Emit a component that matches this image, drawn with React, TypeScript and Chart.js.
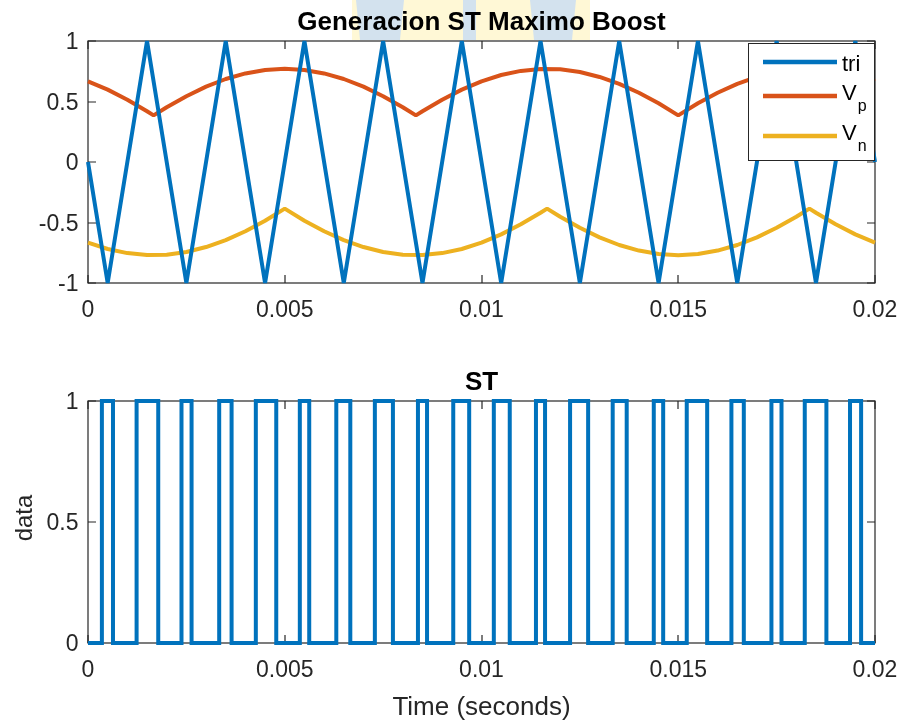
import React, { useEffect, useRef } from 'react';
import { Chart, registerables } from 'chart.js';

Chart.register(...registerables);

const FONT = '"Liberation Sans", Arial, Helvetica, sans-serif';
const AXIS_COLOR = '#262626';
const BLUE = '#0072BD';
const ORANGE = '#D95319';
const YELLOW = '#EDB120';

// ---- tick labels ----
const xTicks = [0, 0.005, 0.01, 0.015, 0.02];
const xTickLabels = ['0', '0.005', '0.01', '0.015', '0.02'];
const yTicksTop = [-1, -0.5, 0, 0.5, 1];
const yTickLabelsTop = ['-1', '-0.5', '0', '0.5', '1'];
const yTicksBottom = [0, 0.5, 1];
const yTickLabelsBottom = ['0', '0.5', '1'];

// ---- texts ----
const topTitle = 'Generacion ST Maximo Boost';
const bottomTitle = 'ST';
const xLabel = 'Time (seconds)';
const yLabel = 'data';
const legendNames = ['tri', 'V', 'V'];
const legendSubs = ['', 'p', 'n'];

// ---- series: carrier (triangle) ----
const triTime = [0, 0.0005, 0.0015, 0.0025, 0.0035, 0.0045, 0.0055, 0.0065, 0.0075, 0.0085, 0.0095,
  0.0105, 0.0115, 0.0125, 0.0135, 0.0145, 0.0155, 0.0165, 0.0175, 0.0185, 0.0195, 0.02];
const triValue = [0, -1, 1, -1, 1, -1, 1, -1, 1, -1, 1, -1, 1, -1, 1, -1, 1, -1, 1, -1, 1, 0];

// ---- series: Vp envelope ----
const vpTime = [0, 0.0005, 0.001, 0.0015, 0.001667, 0.002, 0.0025, 0.003, 0.0035, 0.004, 0.0045, 0.005,
  0.0055, 0.006, 0.0065, 0.007, 0.0075, 0.008, 0.008333, 0.0085, 0.009, 0.0095, 0.01, 0.0105, 0.011,
  0.0115, 0.012, 0.0125, 0.013, 0.0135, 0.014, 0.0145, 0.015, 0.0155, 0.016, 0.0165, 0.017, 0.0175,
  0.018, 0.0185, 0.019, 0.0195, 0.02];
const vpValue = [0.667, 0.598, 0.515, 0.419, 0.385, 0.453, 0.544, 0.623, 0.686, 0.732, 0.761, 0.770,
  0.761, 0.732, 0.686, 0.623, 0.544, 0.453, 0.385, 0.419, 0.515, 0.598, 0.667, 0.719, 0.753,
  0.769, 0.766, 0.744, 0.703, 0.646, 0.572, 0.485, 0.385, 0.485, 0.572, 0.646, 0.703, 0.744,
  0.766, 0.769, 0.753, 0.719, 0.667];

// ---- series: Vn envelope ----
const vnTime = [0, 0.0005, 0.001, 0.0015, 0.002, 0.0025, 0.003, 0.0035, 0.004, 0.0045, 0.005,
  0.0055, 0.006, 0.0065, 0.007, 0.0075, 0.008, 0.0085, 0.009, 0.0095, 0.01, 0.0105, 0.011, 0.0115,
  0.011667, 0.012, 0.0125, 0.013, 0.0135, 0.014, 0.0145, 0.015, 0.0155, 0.016, 0.0165, 0.017, 0.0175,
  0.018, 0.018333, 0.0185, 0.019, 0.0195, 0.02];
const vnValue = [-0.667, -0.719, -0.753, -0.769, -0.766, -0.744, -0.703, -0.646, -0.572, -0.485, -0.385,
  -0.485, -0.572, -0.646, -0.703, -0.744, -0.766, -0.769, -0.753, -0.719, -0.667, -0.598, -0.515, -0.419,
  -0.385, -0.453, -0.544, -0.623, -0.686, -0.732, -0.761, -0.770, -0.761, -0.732, -0.686, -0.623, -0.544,
  -0.453, -0.385, -0.419, -0.515, -0.598, -0.667];

// ---- series: shoot-through pulses (rise / fall times, s) ----
const stRise = [0.000353, 0.001235, 0.002376, 0.003334, 0.004265, 0.005383, 0.006310, 0.007290, 0.008385, 0.009282,
  0.010313, 0.011384, 0.012251, 0.013334, 0.014378, 0.015216, 0.016351, 0.017368, 0.018215, 0.019365];
const stFall = [0.000635, 0.001785, 0.002632, 0.003649, 0.004784, 0.005622, 0.006666, 0.007749, 0.008616, 0.009687,
  0.010718, 0.011615, 0.012710, 0.013690, 0.014617, 0.015735, 0.016666, 0.017624, 0.018765, 0.019647];
const stLow = 0;
const stHigh = 1;
const tStart = 0;
const tEnd = 0.02;

function zip(xs: number[], ys: number[]) {
  return xs.map((x, i) => ({ x, y: ys[i] }));
}

function stPoints() {
  const pts: { x: number; y: number }[] = [{ x: tStart, y: stLow }];
  stRise.forEach((r, i) => {
    pts.push({ x: r, y: stLow }, { x: r, y: stHigh }, { x: stFall[i], y: stHigh }, { x: stFall[i], y: stLow });
  });
  pts.push({ x: tEnd, y: stLow });
  return pts;
}

type AxesOpts = {
  yTicks: number[];
  title: string;
  titleY: number;
  legend?: boolean;
  watermark?: boolean;
  xLabel?: string;
  xLabelY?: number;
  yLabel?: string;
  yLabelX?: number;
};

function makeAxesPlugin(o: AxesOpts) {
  return {
    id: 'matlabAxes',
    beforeDraw(chart: any) {
      if (!o.watermark) return;
      const ctx = chart.ctx;
      ctx.save();
      ctx.fillStyle = '#FFF8D6';
      ctx.fillRect(352, 0, 238, 40);
      ctx.fillStyle = '#D3E2EE';
      ctx.beginPath();
      ctx.moveTo(356, 0); ctx.lineTo(404, 0); ctx.lineTo(400, 40); ctx.lineTo(360, 40); ctx.closePath();
      ctx.fill();
      ctx.fillRect(463, 0, 13, 40);
      ctx.beginPath();
      ctx.moveTo(530, 0); ctx.lineTo(576, 0); ctx.lineTo(572, 40); ctx.lineTo(534, 40); ctx.closePath();
      ctx.fill();
      ctx.restore();
    },
    beforeDatasetsDraw(chart: any) {
      const ctx = chart.ctx;
      const { left, right, top, bottom } = chart.chartArea;
      const xs = chart.scales.x;
      const ys = chart.scales.y;
      const tl = 8;
      ctx.save();
      ctx.strokeStyle = AXIS_COLOR;
      ctx.lineWidth = 1.2;
      ctx.beginPath();
      xTicks.forEach((v) => {
        const px = Math.round(xs.getPixelForValue(v));
        ctx.moveTo(px, bottom); ctx.lineTo(px, bottom - tl);
        ctx.moveTo(px, top); ctx.lineTo(px, top + tl);
      });
      o.yTicks.forEach((v) => {
        const py = Math.round(ys.getPixelForValue(v));
        ctx.moveTo(left, py); ctx.lineTo(left + tl, py);
        ctx.moveTo(right, py); ctx.lineTo(right - tl, py);
      });
      ctx.stroke();
      ctx.strokeRect(left, top, right - left, bottom - top);
      ctx.restore();
    },
    afterDraw(chart: any) {
      const ctx = chart.ctx;
      const { left, right, top, bottom } = chart.chartArea;
      const cx = (left + right) / 2;
      ctx.save();
      ctx.fillStyle = '#000';
      ctx.textAlign = 'center';
      ctx.textBaseline = 'alphabetic';
      ctx.font = `bold 26px ${FONT}`;
      ctx.fillText(o.title, cx, o.titleY);
      if (o.xLabel) {
        ctx.fillStyle = AXIS_COLOR;
        ctx.font = `26px ${FONT}`;
        ctx.fillText(o.xLabel, cx, o.xLabelY as number);
      }
      if (o.yLabel) {
        ctx.save();
        ctx.fillStyle = AXIS_COLOR;
        ctx.font = `24px ${FONT}`;
        ctx.translate(o.yLabelX as number, (top + bottom) / 2 - 4);
        ctx.rotate(-Math.PI / 2);
        ctx.textAlign = 'center';
        ctx.fillText(o.yLabel, 0, 0);
        ctx.restore();
      }
      if (o.legend) {
        const bx = 748, by = 43, bw = 126, bh = 117;
        ctx.fillStyle = '#fff';
        ctx.fillRect(bx, by, bw, bh);
        ctx.strokeStyle = AXIS_COLOR;
        ctx.lineWidth = 1;
        ctx.strokeRect(bx + 0.5, by + 0.5, bw, bh);
        const colors = [BLUE, ORANGE, YELLOW];
        const lineYs = [62, 96, 136];
        const textBase = [71, 100, 140];
        colors.forEach((c, i) => {
          ctx.strokeStyle = c;
          ctx.lineWidth = 4.5;
          ctx.beginPath();
          ctx.moveTo(763, lineYs[i]);
          ctx.lineTo(837, lineYs[i]);
          ctx.stroke();
          ctx.fillStyle = '#000';
          ctx.textAlign = 'left';
          ctx.font = `22px ${FONT}`;
          ctx.fillText(legendNames[i], 842, textBase[i]);
          if (legendSubs[i]) {
            const w = ctx.measureText(legendNames[i]).width;
            ctx.font = `16px ${FONT}`;
            ctx.fillText(legendSubs[i], 842 + w + 1, textBase[i] + 10.5);
          }
        });
      }
      ctx.restore();
    },
  };
}

function zeroPad(s: any) {
  s.paddingLeft = 0;
  s.paddingRight = 0;
  s.paddingTop = 0;
  s.paddingBottom = 0;
}

function baseOptions(yMin: number, yMax: number, yTicks: number[], yLabels: string[], padTop: number, xAxisH: number) {
  return {
    animation: false as const,
    responsive: false,
    maintainAspectRatio: false,
    devicePixelRatio: 1,
    layout: { padding: { left: 0, right: 26, top: padTop, bottom: 0 } },
    plugins: {
      legend: { display: false },
      title: { display: false },
      tooltip: { enabled: false },
    },
    elements: { point: { radius: 0 }, line: { tension: 0 } },
    scales: {
      x: {
        type: 'linear' as const,
        min: xTicks[0],
        max: xTicks[xTicks.length - 1],
        grid: { display: false, drawTicks: false },
        border: { display: false },
        afterFit: (s: any) => { s.height = xAxisH; zeroPad(s); },
        afterBuildTicks: (s: any) => { s.ticks = xTicks.map((v) => ({ value: v })); },
        ticks: {
          autoSkip: false,
          maxRotation: 0,
          padding: 14,
          color: AXIS_COLOR,
          font: { family: FONT, size: 23 },
          callback: (v: number) => xTickLabels[xTicks.indexOf(v)] ?? '',
        },
      },
      y: {
        type: 'linear' as const,
        min: yMin,
        max: yMax,
        grid: { display: false, drawTicks: false },
        border: { display: false },
        afterFit: (s: any) => { s.width = 88; zeroPad(s); },
        afterBuildTicks: (s: any) => { s.ticks = yTicks.map((v) => ({ value: v })); },
        ticks: {
          autoSkip: false,
          padding: 9.5,
          labelOffset: 2,
          color: AXIS_COLOR,
          font: { family: FONT, size: 23 },
          callback: (v: number) => yLabels[yTicks.indexOf(v)] ?? '',
        },
      },
    },
  };
}

export default function App() {
  const topRef = useRef<HTMLCanvasElement | null>(null);
  const botRef = useRef<HTMLCanvasElement | null>(null);

  useEffect(() => {
    const lineDs = (label: string, data: any[], color: string, join: 'bevel' | 'miter') => ({
      label,
      data,
      borderColor: color,
      backgroundColor: color,
      borderWidth: 4,
      pointRadius: 0,
      fill: false,
      clip: false as const,
      borderCapStyle: 'butt' as const,
      borderJoinStyle: join,
    });

    const top = new Chart(topRef.current as HTMLCanvasElement, {
      type: 'line',
      data: {
        datasets: [
          lineDs('tri', zip(triTime, triValue), BLUE, 'bevel'),
          lineDs('Vp', zip(vpTime, vpValue), ORANGE, 'bevel'),
          lineDs('Vn', zip(vnTime, vnValue), YELLOW, 'bevel'),
        ],
      },
      options: baseOptions(-1, 1, yTicksTop, yTickLabelsTop, 41, 62) as any,
      plugins: [makeAxesPlugin({ yTicks: yTicksTop, title: topTitle, titleY: 30, legend: true, watermark: true })],
    });

    const bot = new Chart(botRef.current as HTMLCanvasElement, {
      type: 'line',
      data: {
        datasets: [lineDs('ST', stPoints(), BLUE, 'miter')],
      },
      options: baseOptions(0, 1, yTicksBottom, yTickLabelsBottom, 56, 78) as any,
      plugins: [makeAxesPlugin({
        yTicks: yTicksBottom, title: bottomTitle, titleY: 45,
        xLabel, xLabelY: 370, yLabel, yLabelX: 32,
      })],
    });

    return () => {
      top.destroy();
      bot.destroy();
    };
  }, []);

  return (
    <div style={{ position: 'fixed', left: 0, top: 0, width: 901, height: 721, background: '#fff' }}>
      <canvas ref={topRef} width={901} height={345}
        style={{ position: 'absolute', left: 0, top: 0, width: 901, height: 345, display: 'block' }} />
      <canvas ref={botRef} width={901} height={376}
        style={{ position: 'absolute', left: 0, top: 345, width: 901, height: 376, display: 'block' }} />
    </div>
  );
}
